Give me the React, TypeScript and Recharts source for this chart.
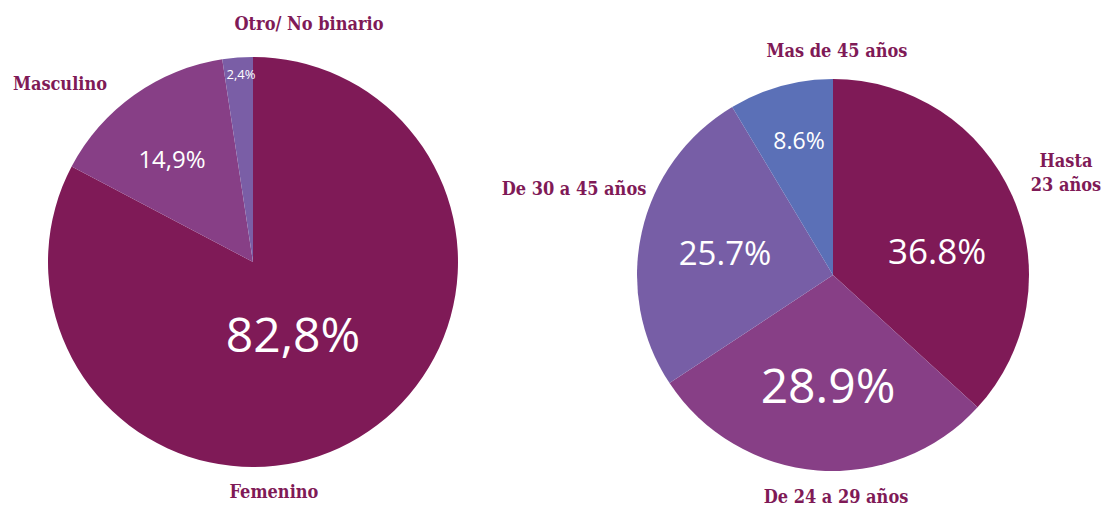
import { PieChart, Pie, Cell } from 'recharts'

// Genero
const genderNames = ['Femenino', 'Masculino', 'Otro/ No binario']
const genderValues = [82.8, 14.9, 2.4]
const genderColors = ['#7f1a57', '#873f86', '#7a5ea6']

// Edad
const ageNames = ['Hasta\n23 años', 'De 24 a 29 años', 'De 30 a 45 años', 'Mas de 45 años']
const ageValues = [36.8, 28.9, 25.7, 8.6]
const ageColors = ['#7f1a57', '#873f86', '#775ea6', '#5b70b7']

const genderData = genderNames.map((name, i) => ({ name, value: genderValues[i] }))
const ageData = ageNames.map((name, i) => ({ name, value: ageValues[i] }))

// label layout, offsets from the pie centre
const genderPctSpots = [
  { dx: 40, dy: 71, size: 48 },
  { dx: -81, dy: -104, size: 24 },
  { dx: -12, dy: -188, size: 13 },
]
const genderNameSpots = [
  { dx: 21, dy: 229 },
  { dx: -193, dy: -179 },
  { dx: 56, dy: -239 },
]
const agePctSpots = [
  { dx: 104, dy: -25, size: 35 },
  { dx: -5, dy: 109, size: 48 },
  { dx: -108, dy: -23, size: 33 },
  { dx: -34, dy: -135, size: 23 },
]
const ageNameSpots = [
  { dx: 233, dy: -103 },
  { dx: 3, dy: 221 },
  { dx: -259, dy: -87 },
  { dx: 4, dy: -225 },
]

const nameFont = '"DejaVu Serif Condensed", "DejaVu Serif", serif'
const pctFont = '"Open Sans", sans-serif'
const nameColor = '#7f1a57'

function makeLabel(
  pctSpots: { dx: number; dy: number; size: number }[],
  nameSpots: { dx: number; dy: number }[],
  decimal: string
) {
  return (props: any) => {
    const { cx, cy, index, value, name } = props
    const p = pctSpots[index]
    const n = nameSpots[index]
    const lines = String(name).split('\n')
    return (
      <g>
        <text
          x={cx + p.dx}
          y={cy + p.dy}
          fill="#fff"
          textAnchor="middle"
          dominantBaseline="central"
          fontFamily={pctFont}
          fontWeight={500}
          fontSize={p.size}
        >
          {value.toFixed(1).replace('.', decimal)}%
        </text>
        <text
          x={cx + n.dx}
          y={cy + n.dy - ((lines.length - 1) * 24) / 2}
          fill={nameColor}
          textAnchor="middle"
          dominantBaseline="central"
          fontFamily={nameFont}
          fontWeight="bold"
          fontSize={18}
        >
          {lines.map((l, i) => (
            <tspan key={i} x={cx + n.dx} dy={i === 0 ? 0 : 24}>
              {l}
            </tspan>
          ))}
        </text>
      </g>
    )
  }
}

export default function App() {
  return (
    <div style={{ position: 'absolute', left: 0, top: 0, background: '#fff' }}>
      <PieChart width={1104} height={506} margin={{ top: 0, right: 0, bottom: 0, left: 0 }}>
        <Pie
          data={genderData}
          dataKey="value"
          nameKey="name"
          cx={253}
          cy={262}
          outerRadius={205}
          startAngle={90}
          endAngle={-270}
          stroke="none"
          labelLine={false}
          label={makeLabel(genderPctSpots, genderNameSpots, ',')}
          isAnimationActive={false}
        >
          {genderData.map((d, i) => (
            <Cell key={d.name} fill={genderColors[i]} />
          ))}
        </Pie>
        <Pie
          data={ageData}
          dataKey="value"
          nameKey="name"
          cx={833}
          cy={275}
          outerRadius={196}
          startAngle={90}
          endAngle={-270}
          stroke="none"
          labelLine={false}
          label={makeLabel(agePctSpots, ageNameSpots, '.')}
          isAnimationActive={false}
        >
          {ageData.map((d, i) => (
            <Cell key={d.name} fill={ageColors[i]} />
          ))}
        </Pie>
      </PieChart>
    </div>
  )
}
